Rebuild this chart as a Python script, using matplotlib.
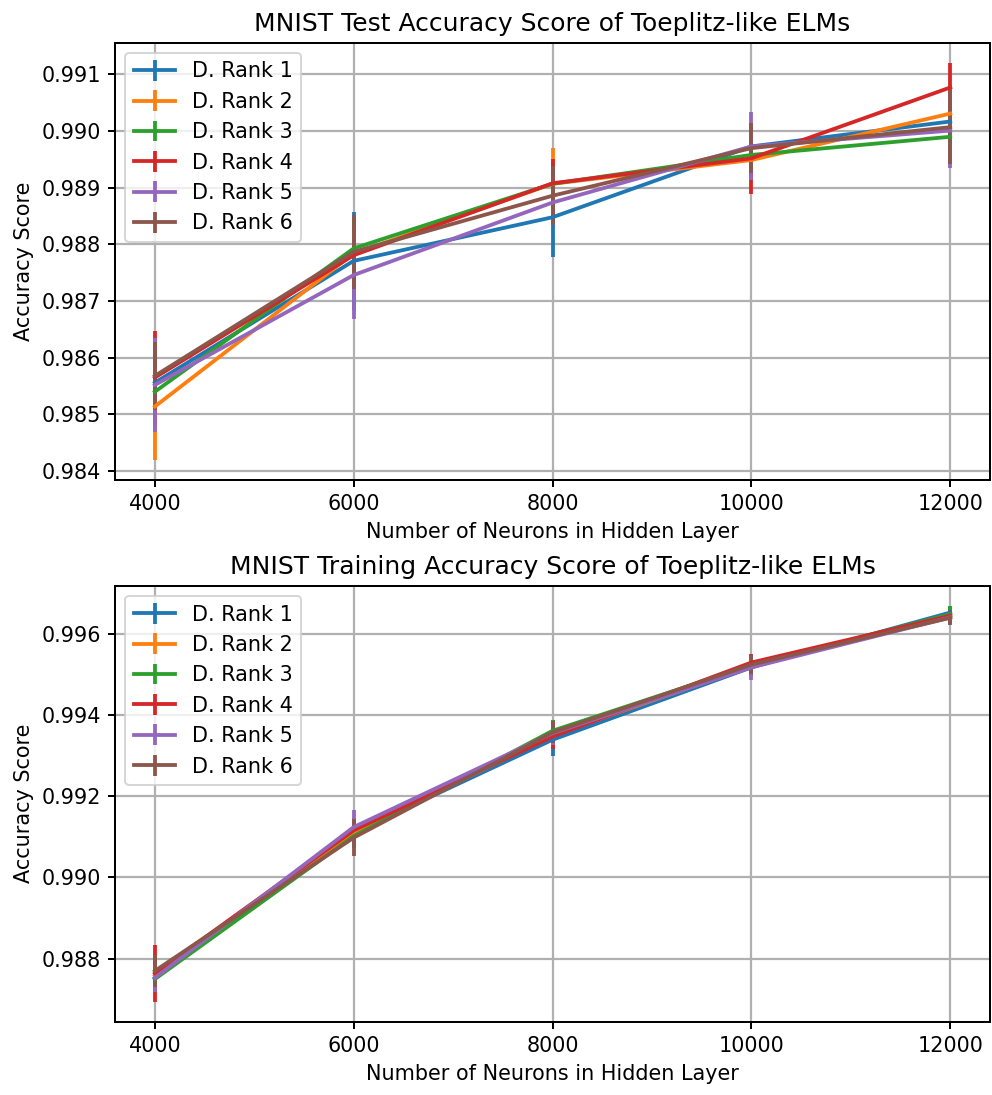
import matplotlib
matplotlib.use("Agg")
from matplotlib import pyplot as plt
import numpy as np

neurons = [4000, 6000, 8000, 10000, 12000]
labels = ["D. Rank 1", "D. Rank 2", "D. Rank 3", "D. Rank 4", "D. Rank 5", "D. Rank 6"]

# test accuracy (mean, std) per displacement rank
test_mean = [
    [0.98556, 0.98771, 0.98848, 0.98973, 0.99017],
    [0.98514, 0.98784, 0.98907, 0.98949, 0.99031],
    [0.98540, 0.98793, 0.98907, 0.98958, 0.98990],
    [0.98565, 0.98781, 0.98908, 0.98952, 0.99077],
    [0.98552, 0.98746, 0.98874, 0.98973, 0.99001],
    [0.98568, 0.98787, 0.98886, 0.98970, 0.99007],
]
test_std = [
    [0.00060, 0.00087, 0.00070, 0.00040, 0.00040],
    [0.00094, 0.00050, 0.00064, 0.00030, 0.00040],
    [0.00050, 0.00050, 0.00040, 0.00030, 0.00040],
    [0.00083, 0.00050, 0.00043, 0.00063, 0.00044],
    [0.00083, 0.00077, 0.00040, 0.00060, 0.00066],
    [0.00060, 0.00065, 0.00052, 0.00044, 0.00065],
]

# training accuracy (mean, std) per displacement rank
train_mean = [
    [0.98752, 0.99110, 0.99339, 0.99517, 0.99652],
    [0.98758, 0.99108, 0.99350, 0.99520, 0.99645],
    [0.98750, 0.99102, 0.99361, 0.99522, 0.99648],
    [0.98764, 0.99116, 0.99347, 0.99529, 0.99644],
    [0.98753, 0.99124, 0.99355, 0.99517, 0.99640],
    [0.98770, 0.99098, 0.99357, 0.99524, 0.99639],
]
train_std = [
    [0.00030, 0.00030, 0.00040, 0.00020, 0.00015],
    [0.00030, 0.00030, 0.00030, 0.00020, 0.00015],
    [0.00030, 0.00030, 0.00027, 0.00020, 0.00021],
    [0.00070, 0.00030, 0.00030, 0.00020, 0.00015],
    [0.00035, 0.00043, 0.00030, 0.00030, 0.00015],
    [0.00040, 0.00045, 0.00027, 0.00024, 0.00017],
]

plt.rcParams.update({
    "font.size": 10.4,
    "axes.titlesize": 12.5,
    "lines.linewidth": 1.9,
    "grid.linewidth": 1.1,
    "axes.linewidth": 1.0,
    "xtick.major.width": 1.0,
    "ytick.major.width": 1.0,
})

fig = plt.figure(figsize=(992 / 144, 1095 / 144), dpi=144)
ax1 = fig.add_axes([0.116, 0.562, 0.882, 0.399])
ax2 = fig.add_axes([0.116, 0.067, 0.882, 0.398])


def draw(ax, means, stds, title):
    for i in range(len(labels)):
        ax.errorbar(neurons, means[i], yerr=stds[i], label=labels[i])
    ax.set_title(title)
    ax.set_xlabel("Number of Neurons in Hidden Layer")
    ax.set_ylabel("Accuracy Score")
    ax.set_xticks(neurons)
    ax.grid(True)
    ax.legend(loc="upper left")


draw(ax1, test_mean, test_std, "MNIST Test Accuracy Score of Toeplitz-like ELMs")
draw(ax2, train_mean, train_std, "MNIST Training Accuracy Score of Toeplitz-like ELMs")

plt.savefig("out.png", dpi=144)
